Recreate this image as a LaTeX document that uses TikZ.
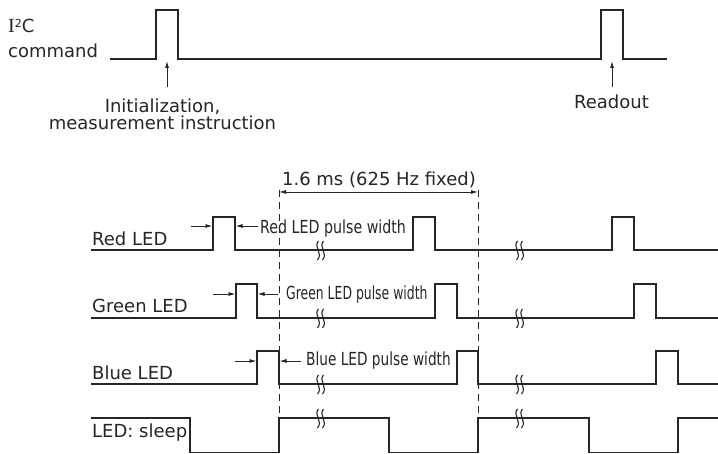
\documentclass[tikz,border=0pt]{standalone}
\usepackage{fontspec}
\usepackage{graphicx}
\setmainfont{DejaVu Sans}
\newfontfamily\seriffont{Liberation Serif}
\usetikzlibrary{arrows.meta}
\definecolor{ink}{RGB}{38,38,38}
\begin{document}
\begin{tikzpicture}[x=1pt,y=-1pt,
  sig/.style={draw=ink, line width=1.1pt, line join=miter},
  lbl/.style={font=\fontsize{18}{20}\selectfont, text=ink, inner sep=0pt, anchor=base west},
  clbl/.style={font=\fontsize{18}{20}\selectfont, text=ink, inner sep=0pt, anchor=base},
  arr/.style={draw=ink, line width=0.9pt, -{Latex[length=7pt,width=4pt]}},
  dimarr/.style={draw=ink, line width=0.9pt, {Latex[length=7pt,width=4pt]}-{Latex[length=7pt,width=4pt]}},
  dashline/.style={draw=ink, line width=0.9pt, dash pattern=on 7pt off 5pt},
  brk/.pic={
    \draw[ink, line width=1.1pt] (-1.5,-9) .. controls (-7,-3) and (3.5,3) .. (-2.5,10);
    \draw[ink, line width=1.1pt] (3.5,-9) .. controls (-2,-3) and (8.5,3) .. (2.5,10);
  }]
\useasboundingbox (0,0) rectangle (718,454);
\fill[white] (0,0) rectangle (718,454);

% ---------- I2C command ----------
\node[lbl] (i2c) at (8,33) {{\fontsize{20}{20}\seriffont I}\raisebox{0.6ex}{\fontsize{11}{11}\selectfont 2}C};
\node[lbl] (cmd) at (8,58) {command};
\draw[sig] (110,59) -- (156,59) -- (156,10) -- (178,10) -- (178,59) -- (601,59) -- (601,10) -- (623,10) -- (623,59) -- (667,59);

\node[clbl, align=center, anchor=base, font=\fontsize{18}{17}\selectfont] (init) at (162.5,129.5) {Initialization,\\measurement instruction};
\coordinate (initfrom) at (167,87);
\coordinate (initto) at (167,61);
\draw[arr] (initfrom) -- (initto);

\node[clbl] (read) at (611.5,109) {Readout};
\coordinate (readfrom) at (612,87);
\coordinate (readto) at (612,61);
\draw[arr] (readfrom) -- (readto);

% ---------- period dimension ----------
\coordinate (d1top) at (279,190);
\coordinate (d1bot) at (279,418);
\coordinate (d2top) at (478,190);
\coordinate (d2bot) at (478,418);
\coordinate (dim1) at (279,192);
\coordinate (dim2) at (478,192);
\draw[dashline] (d1top) -- (d1bot);
\draw[dashline] (d2top) -- (d2bot);
\draw[dimarr] (dim1) -- (dim2);
\node[clbl] (period) at (379,186) {1.6 ms (625 Hz fixed)};

% ---------- Red LED ----------
\node[lbl] (red) at (92,246) {Red LED};
\draw[sig] (91,250) -- (213,250) -- (213,217) -- (235,217) -- (235,250) -- (413,250) -- (413,217) -- (435,217) -- (435,250) -- (612,250) -- (612,217) -- (634,217) -- (634,250) -- (718,250);
\coordinate (ra1) at (191,226); \coordinate (ra2) at (212.5,226);
\coordinate (ra3) at (258,226); \coordinate (ra4) at (235.5,226);
\draw[arr] (ra1) -- (ra2);
\draw[arr] (ra3) -- (ra4);
\node[lbl] (redpw) at (260,234) {\scalebox{0.79}[1]{Red LED pulse width}};

% ---------- Green LED ----------
\node[lbl] (green) at (92,313) {Green LED};
\draw[sig] (91,318) -- (236,318) -- (236,284) -- (257,284) -- (257,318) -- (435,318) -- (435,284) -- (457,284) -- (457,318) -- (634,318) -- (634,284) -- (656,284) -- (656,318) -- (718,318);
\coordinate (ga1) at (213,294); \coordinate (ga2) at (235.5,294);
\coordinate (ga3) at (278,294); \coordinate (ga4) at (257.5,294);
\draw[arr] (ga1) -- (ga2);
\draw[arr] (ga3) -- (ga4);
\node[lbl] (greenpw) at (286,300) {\scalebox{0.69}[1]{Green LED pulse width}};

% ---------- Blue LED ----------
\node[lbl] (blue) at (92,380) {Blue LED};
\draw[sig] (91,384) -- (257,384) -- (257,351) -- (279,351) -- (279,384) -- (457,384) -- (457,351) -- (478,351) -- (478,384) -- (656,384) -- (656,351) -- (678,351) -- (678,384) -- (718,384);
\coordinate (ba1) at (235,361); \coordinate (ba2) at (256.5,361);
\coordinate (ba3) at (301,361); \coordinate (ba4) at (279.5,361);
\draw[arr] (ba1) -- (ba2);
\draw[arr] (ba3) -- (ba4);
\node[lbl] (bluepw) at (306,366) {\scalebox{0.76}[1]{Blue LED pulse width}};

% ---------- LED: sleep ----------
\node[lbl] (sleep) at (92,438) {LED: sleep};
\draw[sig] (91,418) -- (190,418) -- (190,452.5) -- (279,452.5) -- (279,418) -- (389,418) -- (389,452.5) -- (478,452.5) -- (478,418) -- (589,418) -- (589,452.5) -- (678,452.5) -- (678,418) -- (718,418);

% ---------- break marks ----------
\foreach \yy in {250,318,384,418} {
  \pic at (320,\yy) {brk};
  \pic at (519,\yy) {brk};
}
\end{tikzpicture}
\end{document}
